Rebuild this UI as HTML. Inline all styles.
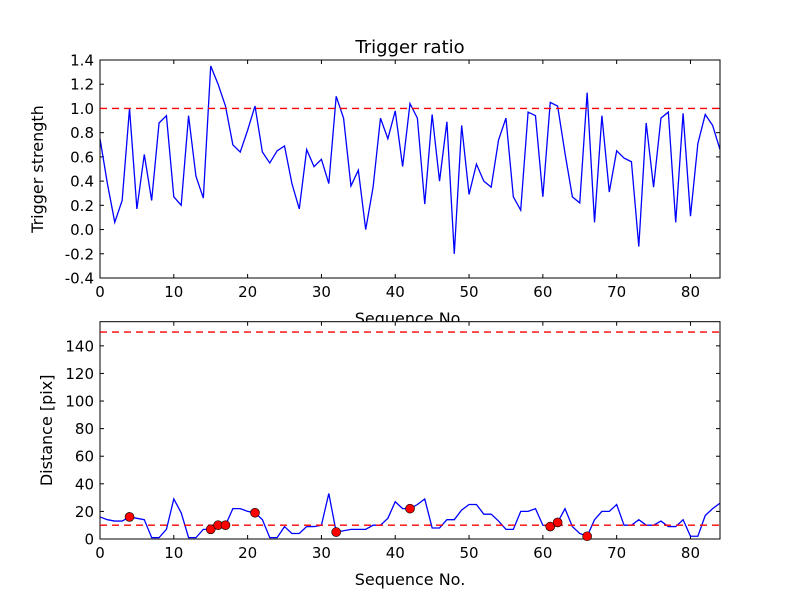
<!DOCTYPE html>
<html><head><meta charset="utf-8"><style>body{margin:0;background:#fff}svg{display:block;font-family:"DejaVu Sans","Liberation Sans",sans-serif}</style></head>
<body>
<svg id="c" width="800" height="600"></svg>
<script>
const strength=[0.75,0.38,0.06,0.24,1.0,0.17,0.62,0.24,0.88,0.94,0.27,0.20,0.94,0.44,0.26,1.35,1.20,1.02,0.70,0.64,0.82,1.02,0.64,0.55,0.65,0.69,0.38,0.17,0.66,0.52,0.58,0.38,1.10,0.92,0.36,0.49,0.0,0.35,0.92,0.75,0.98,0.52,1.04,0.92,0.21,0.95,0.40,0.89,-0.20,0.86,0.29,0.54,0.40,0.35,0.74,0.92,0.27,0.16,0.97,0.94,0.27,1.05,1.02,0.63,0.27,0.22,1.13,0.06,0.94,0.31,0.65,0.59,0.56,-0.14,0.88,0.35,0.92,0.97,0.06,0.96,0.11,0.71,0.95,0.86,0.66];
const distance=[16,14,13,13,16,15,14,1,1,7,29,19,1,1,7,7,10,10,22,22,20,19,14,1,1,9,4,4,9,9,10,33,5,6,7,7,7,10,10,15,27,22,22,25,29,8,8,14,14,21,25,25,18,18,13,7,7,20,20,22,10,9,12,22,9,4,2,14,20,20,25,10,10,14,10,10,13,9,9,14,2,2,17,22,26];
const markerIdx=[4,15,16,17,21,32,42,61,62,66];
const xTicks=[0,10,20,30,40,50,60,70,80];
const topTicks=[-0.4,-0.2,0.0,0.2,0.4,0.6,0.8,1.0,1.2,1.4];
const botTicks=[0,20,40,60,80,100,120,140];
const topThreshold=1.0, botThresholds=[10,150];

const svg=document.getElementById('c');const NS='http://www.w3.org/2000/svg';
function mk(t,a,txt){const e=document.createElementNS(NS,t);for(const k in a)e.setAttribute(k,a[k]);if(txt!==undefined)e.textContent=txt;svg.appendChild(e);return e;}
const L=100,R=720;
const X=v=>L+(v/84)*(R-L);
function panel(T,B,ymin,ymax,ticks,fmt,data,ylabel,pfx){
  const Y=v=>B-(v-ymin)/(ymax-ymin)*(B-T);
  let e=mk('rect',{x:L,y:T,width:R-L,height:B-T,fill:'#fff'});
  
  xTicks.forEach(t=>{const x=X(t);
    mk('line',{x1:x,x2:x,y1:B,y2:B-4,stroke:'#000'});mk('line',{x1:x,x2:x,y1:T,y2:T+4,stroke:'#000'});
    const l=mk('text',{x:x,y:B+19,'text-anchor':'middle','font-size':'15'},t);
    });
  ticks.forEach(t=>{const y=Y(t);
    mk('line',{x1:L,x2:L+4,y1:y,y2:y,stroke:'#000'});mk('line',{x1:R,x2:R-4,y1:y,y2:y,stroke:'#000'});
    const l=mk('text',{x:L-6,y:y+5.5,'text-anchor':'end','font-size':'15'},fmt(t));
    });
  const yl=mk('text',{x:0,y:0,'text-anchor':'middle','font-size':'16',transform:`translate(${pfx==='top'?43:52},${(T+B)/2}) rotate(-90)`},ylabel);
  
  const xl=mk('text',{x:(L+R)/2,y:B+46,'text-anchor':'middle','font-size':'16'},'Sequence No.');
  
  const pl=mk('polyline',{points:data.map((v,i)=>X(i)+','+Y(v)).join(' '),fill:'none',stroke:'#0000ff','stroke-width':'1.3'});
  
  mk('rect',{x:L,y:T,width:R-L,height:B-T,fill:'none',stroke:'#000'});
  return Y;
}
const Yt=panel(60,278,-0.4,1.4,topTicks,t=>t.toFixed(1),strength,'Trigger strength','top');
let th=mk('line',{x1:L,x2:R,y1:Yt(topThreshold),y2:Yt(topThreshold),stroke:'#ff0000','stroke-dasharray':'7,5','stroke-width':'1.3'});

const tt=mk('text',{x:410,y:53,'text-anchor':'middle','font-size':'18'},'Trigger ratio');

const Yb=panel(321.7,539,0,157.5,botTicks,t=>String(t),distance,'Distance [pix]','bottom');
botThresholds.forEach(v=>{const l=mk('line',{x1:L,x2:R,y1:Yb(v),y2:Yb(v),stroke:'#ff0000','stroke-dasharray':'7,5','stroke-width':'1.3'});
  });
markerIdx.forEach(i=>{const c=mk('circle',{cx:X(i),cy:Yb(distance[i]),r:4.5,fill:'#ff0000',stroke:'#000','stroke-width':'0.6'});
  });
</script>
</body></html>
